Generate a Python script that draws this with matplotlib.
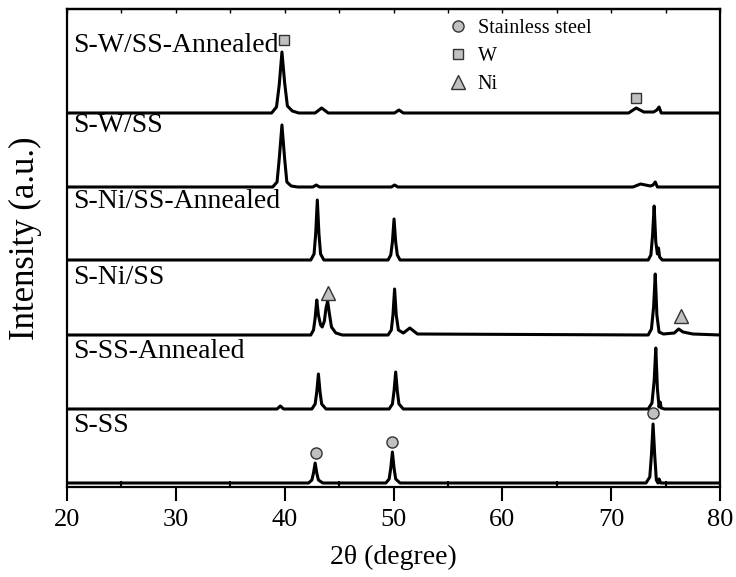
import matplotlib
matplotlib.use('Agg')
from matplotlib import pyplot as plt
from matplotlib.lines import Line2D
from matplotlib.ticker import MultipleLocator

# sample names, bottom to top, with the vertical offset of each pattern (a.u.)
samples = ['S-SS', 'S-SS-Annealed', 'S-Ni/SS', 'S-Ni/SS-Annealed', 'S-W/SS', 'S-W/SS-Annealed']
offsets = [4, 78, 152, 227, 300, 374]
label_y = [62, 136, 209, 286, 362, 442]

# 2theta / intensity points (intensity above own baseline)
ss_x = [20, 42.2, 42.5, 42.65, 42.8, 42.95, 43.1, 43.5, 49.3, 49.6, 49.75, 49.9, 50.05, 50.2, 50.6,
        73.2, 73.55, 73.7, 73.85, 74.0, 74.15, 74.3, 74.4, 74.55, 74.8, 80]
ss_y = [0, 0, 3, 10, 20, 10, 3, 0, 0, 4, 15, 31, 15, 4, 0,
        0, 6, 28, 59, 28, 3, 0, 4, 0, 0, 0]

ss_ann_x = [20, 39.3, 39.6, 39.9, 42.5, 42.8, 42.95, 43.1, 43.25, 43.4, 43.8, 49.6, 49.9, 50.05, 50.2,
            50.35, 50.5, 50.9, 73.4, 73.75, 73.95, 74.1, 74.25, 74.4, 74.5, 74.6, 74.9, 80]
ss_ann_y = [0, 0, 3, 0, 0, 5, 17, 35, 17, 5, 0, 0, 5, 18, 37,
            18, 5, 0, 0, 6, 28, 61, 20, 2, 7, 1, 0, 0]

ni_x = [20, 42.4, 42.65, 42.8, 42.95, 43.1, 43.3, 43.45, 43.65, 43.8, 43.95, 44.1, 44.3, 44.7, 45.3,
        49.5, 49.8, 49.95, 50.1, 50.25, 50.45, 50.9, 51.5, 52.2, 73.4, 73.7, 73.9, 74.05, 74.2, 74.4,
        74.8, 75.8, 76.2, 76.6, 77.5, 80]
ni_y = [0, 0, 5, 17, 35, 20, 10, 8, 14, 27, 34, 22, 8, 2, 0,
        0, 5, 20, 46, 20, 5, 2, 7, 1, 0, 6, 28, 61, 20, 3,
        1, 2, 6, 3, 1, 0]

ni_ann_x = [20, 42.4, 42.7, 42.85, 43.0, 43.15, 43.3, 43.6, 49.5, 49.75, 49.9, 50.05, 50.2, 50.35, 50.6,
            73.4, 73.65, 73.8, 73.95, 74.1, 74.25, 74.35, 74.45, 74.7, 80]
ni_ann_y = [0, 0, 6, 26, 60, 26, 6, 0, 0, 5, 18, 41, 18, 5, 0,
            0, 5, 24, 54, 18, 6, 12, 3, 0, 0]

w_x = [20, 38.9, 39.3, 39.5, 39.75, 40.0, 40.2, 40.6, 41.2, 42.6, 42.9, 43.2, 49.8, 50.1, 50.4,
       72.0, 72.7, 73.6, 73.85, 74.05, 74.25, 74.6, 80]
w_y = [0, 0, 5, 28, 62, 28, 5, 1, 0, 0, 2, 0, 0, 2, 0,
       0, 3, 1, 2, 5, 0, 0, 0]

w_ann_x = [20, 38.8, 39.25, 39.5, 39.75, 40.0, 40.25, 40.7, 41.3, 42.8, 43.4, 44.0, 50.1, 50.5, 50.9,
           71.6, 72.3, 73.0, 73.9, 74.2, 74.4, 74.6, 75.0, 80]
w_ann_y = [0, 0, 6, 28, 61, 30, 7, 2, 0, 0, 5, 0, 0, 3, 0,
           0, 5, 1, 1, 3, 6, 0, 0, 0]

patterns = [(ss_x, ss_y), (ss_ann_x, ss_ann_y), (ni_x, ni_y),
            (ni_ann_x, ni_ann_y), (w_x, w_y), (w_ann_x, w_ann_y)]

# phase markers placed above the peaks
mark_ss_x = [42.88, 49.86, 73.8]
mark_ss_y = [34, 45, 74]
mark_w_x = [39.95, 72.3]
mark_w_y = [447, 389]
mark_ni_x = [44.0, 76.4]
mark_ni_y = [194, 171]

plt.rcParams['font.family'] = ['Liberation Serif', 'DejaVu Serif']

MARK = dict(linestyle='none', markerfacecolor='#c0c0c0', markeredgecolor='#333333',
            markeredgewidth=1.0)


def plot_xrd(ax):
    for (xs, ys), off in zip(patterns, offsets):
        ax.plot(xs, [v + off for v in ys], color='black', lw=2.2, solid_joinstyle='round')

    for name, y in zip(samples, label_y):
        ax.text(20.55, y, name, fontsize=20, ha='left', va='center')

    ax.plot(mark_ss_x, mark_ss_y, marker='o', markersize=8, **MARK)
    ax.plot(mark_w_x, mark_w_y, marker='s', markersize=7.5, **MARK)
    ax.plot(mark_ni_x, mark_ni_y, marker='^', markersize=10, **MARK)

    handles = [Line2D([], [], marker='o', markersize=8, **MARK),
               Line2D([], [], marker='s', markersize=7.5, **MARK),
               Line2D([], [], marker='^', markersize=10, **MARK)]
    ax.legend(handles, ['Stainless steel', 'W', 'Ni'], loc='upper left',
              bbox_to_anchor=(0.583, 0.979), frameon=False, fontsize=14.5,
              handlelength=1.0, handletextpad=0.5, labelspacing=0.45,
              borderpad=0, borderaxespad=0)


def style_axes(ax):
    ax.set_xlim(20, 80)
    ax.set_ylim(0, 478)
    ax.xaxis.set_major_locator(MultipleLocator(10))
    ax.xaxis.set_minor_locator(MultipleLocator(5))
    ax.tick_params(axis='x', which='major', direction='out', length=10, width=1.5,
                   labelsize=19, pad=6)
    ax.tick_params(axis='x', which='minor', direction='in', length=4, width=1.5)
    ax.set_yticks([])
    for sp in ax.spines.values():
        sp.set_linewidth(1.6)

    top = ax.secondary_xaxis('top')
    top.xaxis.set_major_locator(MultipleLocator(5))
    top.tick_params(direction='in', length=3, width=1.0, labeltop=False)
    top.spines['top'].set_linewidth(1.6)

    ax.set_xlabel('2θ (degree)', fontsize=20, labelpad=10)
    ax.set_ylabel('Intensity (a.u.)', fontsize=25)
    ax.yaxis.set_label_coords(-0.038, 0.52)


def main():
    fig = plt.figure(figsize=(7.36, 5.77), dpi=100)
    ax = fig.add_axes([67 / 736, 1 - 487 / 577, 653 / 736, 478 / 577])
    plot_xrd(ax)
    style_axes(ax)
    plt.savefig('out.png', dpi=100)


main()
